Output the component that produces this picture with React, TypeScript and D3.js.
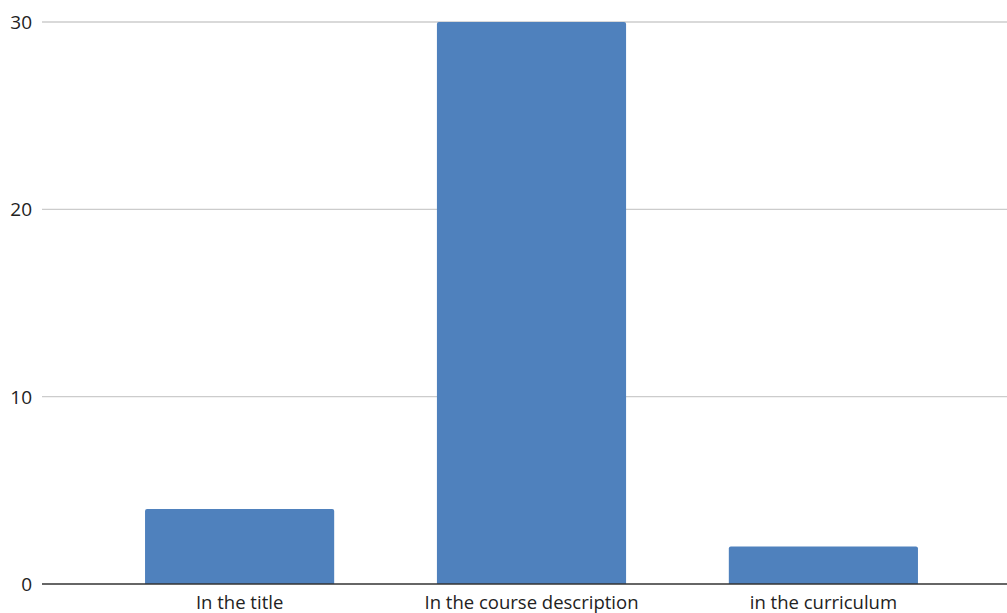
import React from "react";
import * as d3 from "d3";

const categories = ["In the title", "In the course description", "in the curriculum"];
const values = [4, 30, 2];
const yTicks = [0, 10, 20, 30];

const W = 1007;
const H = 613;
const left = 42;
const top = 22;
const bottom = 584;

export default function App() {
  const x = d3
    .scaleBand<string>()
    .domain(categories)
    .range([left, 1021])
    .paddingInner(0.352)
    .paddingOuter(0.353);
  const y = d3.scaleLinear().domain([0, 30]).range([bottom, top]);
  const r = 2;

  const barPath = (cx: number, w: number, y0: number, y1: number) => {
    const p = d3.path();
    p.moveTo(cx, y0);
    p.lineTo(cx, y1 + r);
    p.quadraticCurveTo(cx, y1, cx + r, y1);
    p.lineTo(cx + w - r, y1);
    p.quadraticCurveTo(cx + w, y1, cx + w, y1 + r);
    p.lineTo(cx + w, y0);
    p.closePath();
    return p.toString();
  };

  return (
    <svg
      width={W}
      height={H}
      style={{ position: "fixed", left: 0, top: 0, background: "#fff" }}
      fontFamily="'Open Sans', 'Noto Sans', sans-serif"
    >
      {yTicks.map((t) => (
        <g key={t}>
          {t !== 0 && (
            <line x1={left} x2={W} y1={y(t)} y2={y(t)} stroke="#cccccc" strokeWidth={1.3} />
          )}
          <text x={32} y={y(t)} textAnchor="end" dominantBaseline="central" fontSize={19} fill="#222">
            {t}
          </text>
        </g>
      ))}
      {categories.map((c, i) => (
        <path
          key={c}
          d={barPath(x(c)!, x.bandwidth(), y(0), y(values[i]))}
          fill="#4f81bd"
        />
      ))}
      <line x1={left} x2={W} y1={y(0)} y2={y(0)} stroke="#333" strokeWidth={1.5} />
      {categories.map((c) => (
        <text
          key={c}
          x={x(c)! + x.bandwidth() / 2}
          y={609}
          textAnchor="middle"
          fontSize={18.5}
          fill="#222"
        >
          {c}
        </text>
      ))}
    </svg>
  );
}
